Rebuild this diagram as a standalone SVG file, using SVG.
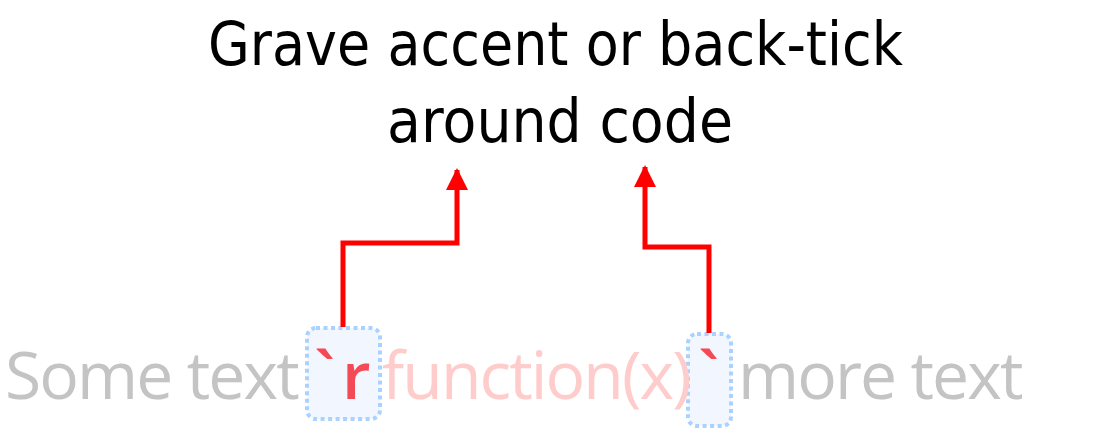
<svg xmlns="http://www.w3.org/2000/svg" width="1103" height="430" viewBox="0 0 1103 430">
<defs>
<style>
.title{font-family:"DejaVu Sans","Liberation Sans",sans-serif;font-size:60px;fill:#000}
.code{font-family:"Open Sans","Noto Sans",sans-serif;font-size:66px;letter-spacing:-1.9px}
.gray{fill:#c4c4c4}
.red{fill:#f34a55}
.pink{fill:#ffcccc}
.box{fill:#f2f6fe;stroke:#a9d2ff;stroke-width:4;stroke-dasharray:4 3.5}
.conn{fill:none;stroke:#ff0000;stroke-width:5}
</style>
<marker id="ah" viewBox="0 0 22 22" refX="20" refY="11" markerWidth="22" markerHeight="22" markerUnits="userSpaceOnUse" orient="auto">
<path d="M0,0 L22,11 L0,22 z" fill="#ff0000"/>
</marker>
</defs>
<rect width="1103" height="430" fill="#ffffff"/>
<g id="title">
<text class="title" x="208" y="65" textLength="695" lengthAdjust="spacingAndGlyphs">Grave accent or back-tick</text>
<text class="title" x="387" y="142" textLength="346" lengthAdjust="spacingAndGlyphs">around code</text>
</g>
<g id="box-open">
<rect class="box" x="307" y="328" width="73" height="91" rx="9"/>
</g>
<g id="box-close">
<rect class="box" x="688" y="334" width="43" height="92" rx="9"/>
</g>
<g id="code-line">
<text class="code" y="399"><tspan class="gray" x="5">Some text</tspan><tspan class="red" x="314 342" style="font-weight:600">`r</tspan><tspan class="pink" x="382">function(x)</tspan><tspan class="red" x="698" style="font-weight:600">`</tspan><tspan class="gray" x="738">more text</tspan></text>
</g>
<g id="connectors">
<polyline class="conn" points="343,327 343,243 457,243 457,170" marker-end="url(#ah)"/>
<polyline class="conn" points="709,333 709,247 645,247 645,167" marker-end="url(#ah)"/>
</g>
</svg>
